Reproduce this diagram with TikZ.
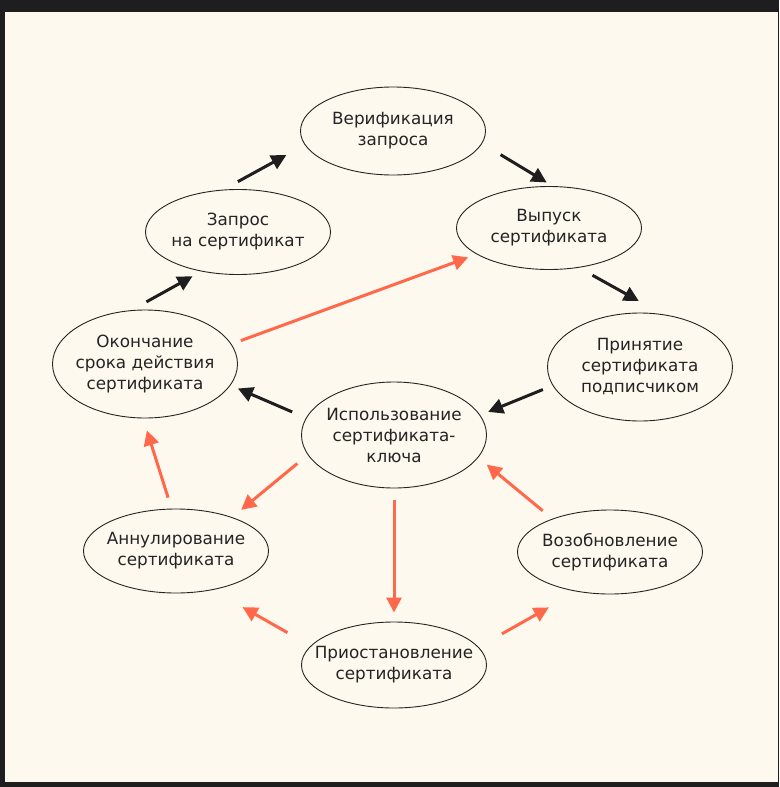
\documentclass[tikz,border=0pt]{standalone}
\usepackage{fontspec}
\setmainfont{DejaVu Sans}
\usetikzlibrary{shapes.geometric,arrows.meta}
\definecolor{dark}{RGB}{30,30,30}
\definecolor{paper}{RGB}{254,249,238}
\definecolor{coral}{RGB}{255,104,74}
\definecolor{ink}{RGB}{36,36,36}

\begin{document}
\begin{tikzpicture}[x=1pt,y=-1pt,
	stage/.style={ellipse, draw=ink, line width=0.9pt, minimum width=185pt, inner xsep=-25pt, inner ysep=0pt, align=center, text=ink, font=\fontsize{16.8}{21}\selectfont},
	blk/.style={draw=dark, line width=3pt, -{Triangle[length=15pt,width=15pt]}},
	org/.style={draw=coral, line width=3pt, -{Triangle[length=15pt,width=15pt]}}]
				\useasboundingbox (0,0) rectangle (779,787);
				\fill[dark] (0,0) rectangle (779,787);
				\fill[paper] (5,12) rectangle (778,782);

				% этапы
				\node[stage, minimum height=88pt] (ver) at (393,131) {Верификация\\запроса};
				\node[stage, minimum height=83pt] (vyp) at (549,228) {Выпуск\\сертификата};
				\node[stage, minimum height=108pt] (prin) at (640,367) {Принятие\\сертификата\\подписчиком};
				\node[stage, minimum height=106pt] (isp) at (394,435) {Использование\\сертификата-\\ключа};
				\node[stage, minimum height=84pt] (voz) at (610,552) {Возобновление\\сертификата};
				\node[stage, minimum height=86pt] (prio) at (394,665) {Приостановление\\сертификата};
				\node[stage, minimum height=84pt] (ann) at (176,551) {Аннулирование\\сертификата};
				\node[stage, minimum height=108pt] (okon) at (145,364) {Окончание\\срока действия\\сертификата};
				\node[stage, minimum height=85pt] (zap) at (238,232) {Запрос\\на сертификат};

				% основной цикл
				\draw[blk, shorten <=17pt, shorten >=10pt] (okon.104) -- (zap.227);
				\draw[blk, shorten <=16.5pt, shorten >=21pt] (zap.109) -- (ver.189);
				\draw[blk, shorten <=21.5pt, shorten >=7pt] (ver.352) -- (vyp.85);
				\draw[blk, shorten <=15.5pt, shorten >=27pt] (vyp.307) -- (prin.67);
				\draw[blk, shorten <=10.5pt, shorten >=8.5pt] (prin.192) -- (isp.13);
				\draw[blk, shorten <=15pt, shorten >=8pt] (isp.169) -- (okon.346);

				% прочие переходы
				\draw[org, shorten <=10pt, shorten >=9pt] (okon.13) -- (vyp.200);
				\draw[org, shorten <=13.5pt, shorten >=11.5pt] (isp.193) -- (ann.31);
				\draw[org, shorten <=11.5pt, shorten >=12.5pt] (ann.96) -- (okon.268);
				\draw[org, shorten <=12pt, shorten >=9pt] (isp.south) -- (prio.north);
				\draw[org, shorten <=26.7pt, shorten >=34.6pt] (prio.167) -- (ann.313);
				\draw[org, shorten <=26.8pt, shorten >=32pt] (prio.12) -- (voz.230);
				\draw[org, shorten <=12.5pt, shorten >=11pt] (voz.150) -- (isp.345);

			\end{tikzpicture}
\end{document}
